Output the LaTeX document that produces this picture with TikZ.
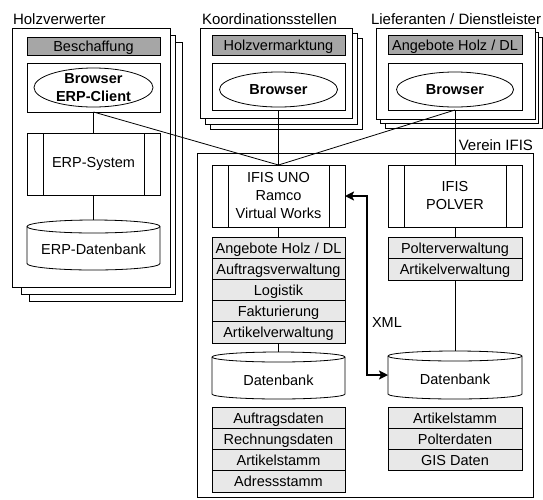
\documentclass[tikz,border=0pt]{standalone}
\usepackage{fontspec}
\setmainfont{Liberation Sans}
\usetikzlibrary{shapes.geometric,arrows.meta}

\definecolor{hdrgray}{gray}{0.65}
\definecolor{itemgray}{gray}{0.91}

\newcommand\diagbody{\fontsize{14.5}{18}\selectfont}
\newcommand\diagtitle{\fontsize{15}{18}\selectfont}

% rectangle node given by its corners: style, name, x1, y1, x2, y2, text
\newcommand\rectnode[7]{%
  \node[#1, minimum width={(#5)-(#3)}, minimum height={(#6)-(#4)}]
    (#2) at ({((#3)+(#5))/2},{((#4)+(#6))/2}) {#7};}

% application block with two inner side bars: name, x1, y1, x2, y2, text
\newcommand\appbox[6]{%
  \rectnode{appstyle}{#1}{#2}{#3}{#4}{#5}{#6}
  \draw ([xshift=16pt]#1.north west) -- ([xshift=16pt]#1.south west)
        ([xshift=-16pt]#1.north east) -- ([xshift=-16pt]#1.south east);}

% database cylinder: name, x1, y1, x2, y2, half height of the lid, text
\newcommand\dbcyl[7]{%
  \draw[fill=white] (#2,{(#3)+(#6)}) -- (#2,{(#5)-(#6)})
    arc[start angle=180, end angle=360, x radius={((#4)-(#2))/2*1pt}, y radius=#6pt]
    -- (#4,{(#3)+(#6)})
    arc[start angle=0, end angle=180, x radius={((#4)-(#2))/2*1pt}, y radius=#6pt] -- cycle;
  \draw (#2,{(#3)+(#6)})
    arc[start angle=180, end angle=360, x radius={((#4)-(#2))/2*1pt}, y radius=#6pt];
  \rectnode{dbtext}{#1}{#2}{#3}{#4}{#5}{#7}}

\begin{document}
\begin{tikzpicture}[x=1pt, y=-1pt, line width=0.8pt,
  every node/.style={inner sep=0pt, outer sep=0pt, font=\diagbody},
  pagesheet/.style={draw, fill=white},
  hdrbar/.style={draw, fill=hdrgray, text height=11pt, text depth=0pt},
  itembar/.style={draw, fill=itemgray, text height=11pt, text depth=0pt},
  clientbox/.style={draw, fill=white},
  appstyle/.style={draw, fill=white, align=center},
  browser/.style={draw, fill=white, ellipse, align=center,
    font=\diagbody\bfseries, inner ysep=-6pt},
  dbtext/.style={text height=19pt, text depth=0pt},
  grouptitle/.style={anchor=base west, font=\diagtitle},
  link/.style={line width=0.8pt},
  xmllink/.style={line width=2.2pt, line join=miter,
    {Stealth[length=9pt,width=9pt,inset=2pt]}-{Stealth[length=9pt,width=9pt,inset=2pt]}},
]
\useasboundingbox (0,0) rectangle (543,499);

% ---- stacked sheets of the three user groups ----
\draw[pagesheet] (29,42) rectangle (182,301);
\draw[pagesheet] (21,35) rectangle (175,294);
\draw[pagesheet] (12,28) rectangle (170,287);

\draw[pagesheet] (210,38) rectangle (362,129);
\draw[pagesheet] (205,33) rectangle (357,124);
\draw[pagesheet] (200,28) rectangle (352,118);

\draw[pagesheet] (385,37) rectangle (542,128);
\draw[pagesheet] (380,32) rectangle (538,123);
\draw[pagesheet] (376,28) rectangle (535,119);

% ---- Holzverwerter ----
\rectnode{hdrbar}{beschaffung}{27}{37}{160}{55}{Beschaffung}
\rectnode{clientbox}{hvclient}{27}{63}{160}{112}{}
\node[browser, minimum width=119pt, minimum height=39pt] (hvbrowser) at (93.5,87.5) {Browser\\ERP-Client};
\appbox{erp}{27}{133}{160}{195}{ERP-System}
\dbcyl{erpdb}{27}{220}{160}{270}{6.5}{ERP-Datenbank}

% ---- Koordinationsstellen ----
\rectnode{hdrbar}{holzverm}{212}{35}{345}{55}{Holzvermarktung}
\rectnode{clientbox}{koclient}{212}{63}{345}{110}{}
\node[browser, minimum width=118pt, minimum height=35pt] (kobrowser) at (278.5,89.5) {Browser};

% ---- Lieferanten / Dienstleister ----
\rectnode{hdrbar}{angebote}{388}{35}{522}{54}{Angebote Holz / DL}
\rectnode{clientbox}{liclient}{388}{63}{522}{110}{}
\node[browser, minimum width=117pt, minimum height=35pt] (librowser) at (455,89.5) {Browser};

% ---- Verein IFIS ----
\draw[pagesheet] (197,153) rectangle (533,497);
\node[anchor=base east, font=\diagtitle] (vereinlabel) at (533,150) {Verein IFIS};

\appbox{uno}{212}{165}{345}{227}{IFIS UNO\\Ramco\\Virtual Works}
\appbox{polver}{388}{165}{522}{227}{IFIS\\POLVER}

\rectnode{itembar}{ul1}{212}{237}{345}{258.2}{Angebote Holz / DL}
\rectnode{itembar}{ul2}{212}{258.2}{345}{279.4}{Auftragsverwaltung}
\rectnode{itembar}{ul3}{212}{279.4}{345}{300.6}{Logistik}
\rectnode{itembar}{ul4}{212}{300.6}{345}{321.8}{Fakturierung}
\rectnode{itembar}{ul5}{212}{321.8}{345}{343}{Artikelverwaltung}

\rectnode{itembar}{ur1}{388}{237}{522}{258.5}{Polterverwaltung}
\rectnode{itembar}{ur2}{388}{258.5}{522}{280}{Artikelverwaltung}

\dbcyl{dbl}{212}{352}{345}{399}{5}{Datenbank}
\dbcyl{dbr}{388}{351}{522}{399}{5}{Datenbank}

\rectnode{itembar}{ll1}{212}{407}{345}{428.25}{Auftragsdaten}
\rectnode{itembar}{ll2}{212}{428.25}{345}{449.5}{Rechnungsdaten}
\rectnode{itembar}{ll3}{212}{449.5}{345}{470.75}{Artikelstamm}
\rectnode{itembar}{ll4}{212}{470.75}{345}{492}{Adressstamm}

\rectnode{itembar}{lr1}{388}{407}{522}{428.25}{Artikelstamm}
\rectnode{itembar}{lr2}{388}{428.25}{522}{449.5}{Polterdaten}
\rectnode{itembar}{lr3}{388}{449.5}{522}{470.75}{GIS Daten}

% ---- connectors ----
\draw[link] (hvclient.south) -- (erp.north);
\draw[link] (erp.south) -- (erpdb.north);
\draw[link] (hvclient.south) -- (uno.north);
\draw[link] (koclient.south) -- (uno.north);
\draw[link] (liclient.south) -- (uno.north);
\draw[link] (liclient.south) -- (polver.north);
\draw[link] (uno.south) -- (ul1.north);
\draw[link] (ul5.south) -- (dbl.north);
\draw[link] (polver.south) -- (ur1.north);
\draw[link] (ur2.south) -- (dbr.north);

% XML exchange between IFIS UNO and the POLVER database
\coordinate (xmlbend) at (367,375);
\draw[xmllink] (uno.east) -| (xmlbend) -- (dbr.west);
\node[anchor=base west] (xmllabel) at (372,327) {XML};

% ---- group titles ----
\node[grouptitle] (hvtitle) at (13,24) {Holzverwerter};
\node[grouptitle] (kotitle) at (202,24) {Koordinationsstellen};
\node[grouptitle] (lititle) at (371,24) {Lieferanten / Dienstleister};
\end{tikzpicture}
\end{document}
